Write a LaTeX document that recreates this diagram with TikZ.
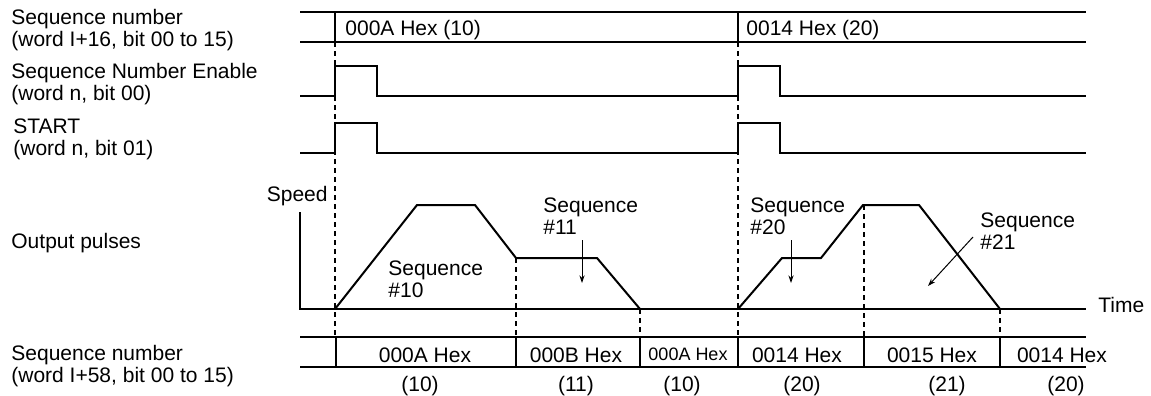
\documentclass[tikz,border=0pt]{standalone}
\usepackage{fontspec}
\setmainfont{Liberation Sans}
\usetikzlibrary{arrows.meta,positioning}
\definecolor{ink}{HTML}{000000}
\tikzset{
  lbl/.style={anchor=north west,inner sep=0pt,align=left,
              font=\fontsize{10.5}{11}\selectfont},
  txt/.style={inner sep=0pt,font=\fontsize{10.5}{11}\selectfont},
  smalltxt/.style={inner sep=0pt,font=\fontsize{9}{10}\selectfont},
  sigline/.style={draw=ink,line width=1pt},
  thinline/.style={draw=ink,line width=0.55pt},
  guide/.style={draw=ink,line width=0.55pt,dash pattern=on 2.5pt off 2pt},
  pointarr/.style={-{Stealth[length=3.8pt,width=2.6pt]},line width=0.5pt,color=ink}
}

\begin{document}
\begin{tikzpicture}[x=0.5pt,y=-0.5pt]
  \useasboundingbox (0,0) rectangle (1151,396);

  % row labels
  \node[lbl] (seqin) at (11,9) {Sequence number\\(word I+16, bit 00 to 15)};
  \node[lbl] (enable) at (11,63) {Sequence Number Enable\\(word n, bit 00)};
  \node[lbl] (start) at (13,118) {START\\(word n, bit 01)};
  \node[lbl] (outp) at (11,233) {Output pulses};
  \node[lbl] (seqout) at (11,345) {Sequence number\\(word I+58, bit 00 to 15)};

  % sequence number input
  \draw[sigline] (300,12) -- (1086,12);
  \draw[sigline] (300,42) -- (1086,42);
  \draw[thinline] (335,12) -- (335,42);
  \draw[thinline] (738,12) -- (738,42);
  \node[txt,anchor=base west] (in10) at (345,35) {000A Hex (10)};
  \node[txt,anchor=base west] (in20) at (746,35) {0014 Hex (20)};

  % enable and start bits
  \draw[sigline] (300,96) -- (335,96) -- (335,66) -- (377,66) -- (377,96)
    -- (738,96) -- (738,66) -- (780,66) -- (780,96) -- (1086,96);
  \draw[sigline] (300,153) -- (335,153) -- (335,123) -- (377,123) -- (377,153)
    -- (738,153) -- (738,123) -- (780,123) -- (780,153) -- (1086,153);

  % guides
  \draw[guide] (335,42) -- (335,337);
  \draw[guide] (738,42) -- (738,337);
  \draw[guide] (516,258) -- (516,337);
  \draw[guide] (640,309) -- (640,337);
  \draw[guide] (864,205) -- (864,337);
  \draw[guide] (1000,309) -- (1000,337);

  % speed profile
  \draw[thinline] (300,212) -- (300,309) -- (1086,309);
  \node[txt,anchor=base east] (speed) at (328,201) {Speed};
  \node[txt,anchor=base west] (time) at (1098,312) {Time};
  \draw[sigline] (335,309) -- (417,205) -- (475,205) -- (516,258)
    -- (597,258) -- (640,309);
  \draw[sigline] (738,309) -- (782,258) -- (821,258) -- (863,205)
    -- (919,205) -- (1000,309);

  \node[lbl] (s10) at (388,260) {Sequence\\\#10};
  \node[lbl] (s11) at (543,197) {Sequence\\\#11};
  \node[lbl] (s20) at (750,197) {Sequence\\\#20};
  \node[lbl] (s21) at (980,212) {Sequence\\\#21};
  \coordinate (s11a) at (582,240);
  \coordinate (s11b) at (582,283);
  \coordinate (s20a) at (791,240);
  \coordinate (s20b) at (791,283);
  \coordinate (s21a) at (973,237);
  \coordinate (s21b) at (928,286);
  \draw[pointarr] (s11a) -- (s11b);
  \draw[pointarr] (s20a) -- (s20b);
  \draw[pointarr] (s21a) -- (s21b);

  % sequence number output
  \draw[sigline] (300,337) -- (1086,337);
  \draw[sigline] (300,367) -- (1086,367);
  \foreach \xx in {336,516,640,738,864,1000}
    \draw[thinline] (\xx,337) -- (\xx,367);
  \node[txt,anchor=base] (o1) at (425,362) {000A Hex};
  \node[txt,anchor=base] (o2) at (576,362) {000B Hex};
  \node[smalltxt,anchor=base] (o3) at (688,360) {000A Hex};
  \node[txt,anchor=base] (o4) at (797,362) {0014 Hex};
  \node[txt,anchor=base] (o5) at (932,362) {0015 Hex};
  \node[txt,anchor=base] (o6) at (1062,362) {0014 Hex};
  \node[txt,anchor=base] (d1) at (420,391) {(10)};
  \node[txt,anchor=base] (d2) at (576,391) {(11)};
  \node[txt,anchor=base] (d3) at (682,391) {(10)};
  \node[txt,anchor=base] (d4) at (802,391) {(20)};
  \node[txt,anchor=base] (d5) at (947,391) {(21)};
  \node[txt,anchor=base] (d6) at (1066,391) {(20)};
\end{tikzpicture}
\end{document}
